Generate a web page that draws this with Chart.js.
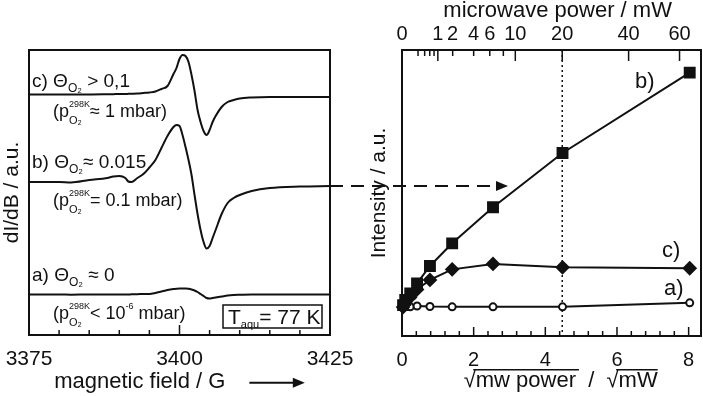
<!DOCTYPE html>
<html lang="en">
<head>
<meta charset="UTF-8">
<title>EPR spectra and microwave saturation</title>
<script src="https://cdn.jsdelivr.net/npm/chart.js"></script>
<style>
  html, body { margin: 0; padding: 0; background: #fff; }
  #wrap { position: relative; width: 703px; height: 396px; }
  #wrap canvas { position: absolute; left: 0; top: 0; }
</style>
</head>
<body>
<div id="wrap">
  <canvas id="spectra" width="703" height="396"></canvas>
  <canvas id="power" width="703" height="396"></canvas>
</div>
<script>
// left panel: EPR spectra (already shifted so the three traces stack)
const fieldG = [3375, 3380, 3382, 3385, 3388, 3389, 3390, 3391, 3391.5, 3392, 3393, 3394, 3395, 3396, 3397, 3398,
  3399, 3399.5, 3400, 3400.5, 3401, 3401.5, 3402, 3402.5, 3403, 3403.5, 3404, 3404.5, 3405, 3405.5, 3406, 3407,
  3408, 3409, 3410, 3412, 3415, 3420, 3425];
const traceC = [240.5, 240.5, 240.5, 240.5, 240.7, 240.8, 241, 241, 241.2, 241.3, 241.5, 242, 242.5, 243.5, 246, 249,
  261, 267, 276, 280, 279, 273, 260, 244, 225, 213, 204, 200, 205, 213, 219, 228,
  233, 235, 236.5, 237.5, 238, 238, 238];
const traceB = [153, 153, 152.5, 155, 157, 158.5, 159, 157, 153.5, 153, 157, 161, 167.5, 175, 187, 199,
  208, 210, 209, 200, 188, 175, 160, 140, 121, 105, 93, 86.5, 89, 97, 105, 121,
  132, 137, 140, 144, 147, 148.5, 149];
const traceA = [40.5, 40.5, 40.3, 40.5, 40.5, 40.5, 40.5, 40.5, 40.5, 40.7, 40.8, 41, 41, 42, 43.5, 45,
  46, 46.3, 46.5, 46.5, 46.5, 46.2, 45.5, 44.5, 43, 41, 39, 37, 36.5, 37, 37.5, 38.5,
  39.5, 40, 40.2, 40.5, 40.5, 40.5, 40.5];
const fieldLabels = [3375, 3400, 3425];

// right panel: intensity vs sqrt(microwave power)
const sqrtPower = [0.03, 0.09, 0.23, 0.42, 0.78, 1.40, 2.54, 4.48, 8.03];
const intensityB = [10.8, 12.6, 14.9, 18.4, 24.5, 32.4, 45.0, 64.0, 92.1];
const intensityC = [10.1, 11.5, 13.6, 16.3, 19.6, 23.3, 25.2, 24.0, 23.7];
const intensityA = [10.1, 10.2, 10.2, 10.5, 10.3, 10.2, 10.2, 10.2, 11.6];
const sqrtLabels = [0, 2, 4, 6, 8];
const topPowerLabels = [0, 1, 2, 4, 6, 10, 20, 40, 60];
const topPowerMinor = [0.2, 0.4, 0.6, 0.8, 8];
const topPowerLong = [1, 10, 20, 40, 60];
const markedPower = 20;

const INK = '#111';
const FONT = "'Liberation Sans', Arial, sans-serif";
Chart.defaults.font.family = FONT;
Chart.defaults.color = INK;

function drawRuns(ctx, x, y, parts) {
  ctx.save();
  ctx.fillStyle = INK;
  ctx.textAlign = 'left';
  ctx.textBaseline = 'alphabetic';
  let cx = x;
  for (const [t, size, dy, stay] of parts) {
    ctx.font = size + 'px ' + FONT;
    ctx.fillText(t, cx, y + (dy || 0));
    if (!stay) cx += ctx.measureText(t).width;
  }
  ctx.restore();
}

function seg(ctx, x1, y1, x2, y2) {
  ctx.beginPath();
  ctx.moveTo(x1, y1);
  ctx.lineTo(x2, y2);
  ctx.stroke();
}

function arrowHead(ctx, x, y) {
  ctx.beginPath();
  ctx.moveTo(x, y);
  ctx.lineTo(x - 12, y - 5);
  ctx.lineTo(x - 12, y + 5);
  ctx.closePath();
  ctx.fill();
}

// grid is hidden; tickLength only moves the labels away from the frame
const noGrid = len => ({display: false, drawTicks: true, tickLength: len});

const spectraDecor = {
  id: 'spectraDecor',
  afterDraw(chart) {
    const {ctx, chartArea: a} = chart;
    const xs = chart.scales.x, ys = chart.scales.y;
    ctx.save();
    ctx.strokeStyle = INK;
    ctx.fillStyle = INK;
    ctx.lineWidth = 2;
    ctx.strokeRect(a.left, a.top, a.right - a.left, a.bottom - a.top);

    // ticks pointing inwards
    ctx.lineWidth = 1.5;
    xs.ticks.forEach(t => {
      const px = xs.getPixelForValue(t.value);
      seg(ctx, px, a.bottom, px, a.bottom - (fieldLabels.includes(t.value) ? 10 : 5));
    });

    // arrow next to the axis title
    ctx.font = '22px ' + FONT;
    const full = xs.options.title.text;
    const wFull = ctx.measureText(full).width;
    const wText = ctx.measureText(full.trimEnd()).width;
    const cx = (xs.left + xs.right) / 2;
    const cy = xs.bottom - 13.2 - 1;
    const x0 = cx - wFull / 2;
    ctx.lineWidth = 2;
    seg(ctx, x0 + wText + 24, cy + 1, x0 + wFull - 8, cy + 1);
    arrowHead(ctx, x0 + wFull, cy + 1);

    // dashed arrow from trace b towards the right panel
    const yb = ys.getPixelForValue(traceB[traceB.length - 1]);
    ctx.setLineDash([13, 8]);
    seg(ctx, a.right, yb, a.right + 168, yb);
    ctx.setLineDash([]);
    arrowHead(ctx, a.right + 178, yb);

    // labels of the traces
    drawRuns(ctx, 32, 87, [['c) Θ', 19], ['O₂', 12, 5], [' > 0,1', 19]]);
    drawRuns(ctx, 53, 117, [['(p', 18], ['O₂', 11, 7, true], ['298K', 9, -10], ['≈ 1 mbar)', 18]]);
    drawRuns(ctx, 32, 168, [['b) Θ', 19], ['O₂', 12, 5], ['≈ 0.015', 19]]);
    drawRuns(ctx, 53, 206, [['(p', 18], ['O₂', 11, 7, true], ['298K', 9, -10], ['= 0.1 mbar)', 18]]);
    drawRuns(ctx, 32, 281, [['a) Θ', 19], ['O₂', 12, 5], [' ≈ 0', 19]]);
    drawRuns(ctx, 53, 319, [['(p', 18], ['O₂', 11, 7, true], ['298K', 9, -10], ['< 10', 18], ['-6', 9, -10], [' mbar)', 18]]);

    ctx.lineWidth = 1.5;
    ctx.strokeRect(223, 305, 99, 23);
    drawRuns(ctx, 228, 324, [['T', 21], ['aqu', 11, 4], ['= 77 K', 21]]);
    ctx.restore();
  }
};

const powerDecor = {
  id: 'powerDecor',
  beforeDatasetsDraw(chart) {
    const {ctx, chartArea: a} = chart;
    const px = chart.scales.x.getPixelForValue(Math.sqrt(markedPower));
    ctx.save();
    ctx.strokeStyle = INK;
    ctx.lineWidth = 1.5;
    ctx.setLineDash([2, 3]);
    seg(ctx, px, a.top, px, a.bottom);
    ctx.restore();
  },
  afterDraw(chart) {
    const {ctx, chartArea: a} = chart;
    const xs = chart.scales.x, xt = chart.scales.x2;
    ctx.save();
    ctx.strokeStyle = INK;
    ctx.lineWidth = 2;
    ctx.strokeRect(a.left, a.top, a.right - a.left, a.bottom - a.top);

    ctx.lineWidth = 1.5;
    xs.ticks.forEach(t => {
      const px = xs.getPixelForValue(t.value);
      const major = sqrtLabels.some(v => Math.abs(v - t.value) < 1e-6);
      seg(ctx, px, a.bottom, px, a.bottom - (major ? 9 : 5));
    });
    xt.ticks.forEach(t => {
      if (t.power === 0) return;
      const px = xt.getPixelForValue(t.value);
      seg(ctx, px, a.top, px, a.top + (topPowerLong.includes(t.power) ? 11 : 6));
    });

    // overlines of the square roots in the axis title
    ctx.font = '22px ' + FONT;
    const full = xs.options.title.text;
    const w = k => ctx.measureText(full.slice(0, k)).width;
    const x0 = (xs.left + xs.right) / 2 - ctx.measureText(full).width / 2;
    const cy = xs.bottom - 13.2 - 2;
    const i1 = full.indexOf('√'), i2 = full.lastIndexOf('√');
    const rootW = ctx.measureText('√').width;
    ctx.lineWidth = 1.5;
    seg(ctx, x0 + w(i1) + rootW * 0.8, cy - 11, x0 + w(full.indexOf('  /')) + 3, cy - 11);
    seg(ctx, x0 + w(i2) + rootW * 0.8, cy - 11, x0 + w(full.length), cy - 11);

    drawRuns(ctx, 635, 88, [['b)', 22]]);
    drawRuns(ctx, 662, 257, [['c)', 22]]);
    drawRuns(ctx, 664, 295, [['a)', 22]]);
    ctx.restore();
  }
};

const trace = d => ({
  data: fieldG.map((f, i) => ({x: f, y: d[i]})),
  borderColor: INK, borderWidth: 2, pointRadius: 0,
  cubicInterpolationMode: 'monotone', fill: false
});

new Chart(document.getElementById('spectra'), {
  type: 'line',
  data: {datasets: [trace(traceC), trace(traceB), trace(traceA)]},
  options: {
    responsive: false,
    animation: false,
    layout: {autoPadding: false, padding: {left: 0, right: 373, top: 50, bottom: 0}},
    plugins: {legend: {display: false}, tooltip: {enabled: false}},
    scales: {
      x: {
        type: 'linear', min: 3375, max: 3425,
        grid: noGrid(12), border: {display: false},
        ticks: {stepSize: 5, autoSkip: false, maxRotation: 0, padding: 0, font: {size: 21},
          callback: v => fieldLabels.includes(v) ? String(v) : ''},
        title: {display: true, text: 'magnetic field / G' + ' '.repeat(13), font: {size: 22},
          padding: {top: 0, bottom: 1}},
        afterFit: s => { s.height = 61; }
      },
      y: {
        min: 0, max: 285,
        grid: {display: false, drawTicks: false}, border: {display: false},
        ticks: {display: false},
        title: {display: true, text: 'dI/dB / a.u.', font: {size: 21}, padding: {top: 0, bottom: 0}},
        afterFit: s => { s.width = 29; }
      }
    }
  },
  plugins: [spectraDecor]
});

const series = (d, style, radius, fillColor) => ({
  data: sqrtPower.map((s, i) => ({x: s, y: d[i]})),
  borderColor: INK, borderWidth: 2, tension: 0, fill: false, clip: false,
  pointStyle: style, pointRadius: radius, pointBackgroundColor: fillColor,
  pointBorderColor: INK, pointBorderWidth: 2
});

new Chart(document.getElementById('power'), {
  type: 'line',
  data: {datasets: [
    series(intensityB, 'rect', 7, INK),
    series(intensityC, 'rectRot', 6, INK),
    series(intensityA, 'circle', 3.5, '#fff')
  ]},
  options: {
    responsive: false,
    animation: false,
    layout: {autoPadding: false, padding: {left: 360, right: 2, top: 0, bottom: 0}},
    plugins: {legend: {display: false}, tooltip: {enabled: false}},
    scales: {
      x: {
        type: 'linear', position: 'bottom', min: 0, max: 8.345,
        grid: noGrid(12), border: {display: false},
        ticks: {stepSize: 0.4, includeBounds: false, autoSkip: false, maxRotation: 0, padding: 0,
          font: {size: 20},
          callback: v => {
            const hit = sqrtLabels.find(s => Math.abs(s - v) < 1e-6);
            return hit === undefined ? '' : String(hit);
          }},
        title: {display: true, text: '   √mw power  /  √mW', font: {size: 22}, padding: {top: 0, bottom: 2}},
        afterFit: s => { s.height = 60; }
      },
      x2: {
        type: 'linear', position: 'top', min: 0, max: 8.345,
        grid: noGrid(4), border: {display: false},
        afterBuildTicks: s => {
          s.ticks = [...topPowerLabels, ...topPowerMinor].sort((p, q) => p - q)
            .map(p => ({value: Math.sqrt(p), power: p}));
        },
        ticks: {autoSkip: false, maxRotation: 0, padding: 0, font: {size: 20},
          callback: (v, i, ticks) => topPowerLabels.includes(ticks[i].power) ? String(ticks[i].power) : ''},
        title: {display: true, text: '  microwave power / mW', font: {size: 22}, padding: {top: -2, bottom: 0}},
        afterFit: s => { s.height = 50; }
      },
      y: {
        min: 0, max: 100,
        grid: {display: false, drawTicks: false}, border: {display: false},
        ticks: {display: false},
        title: {display: true, text: 'Intensity / a.u.', font: {size: 21}, padding: {top: 7, bottom: 0}},
        afterFit: s => { s.width = 42; }
      }
    }
  },
  plugins: [powerDecor]
});
</script>
</body>
</html>
